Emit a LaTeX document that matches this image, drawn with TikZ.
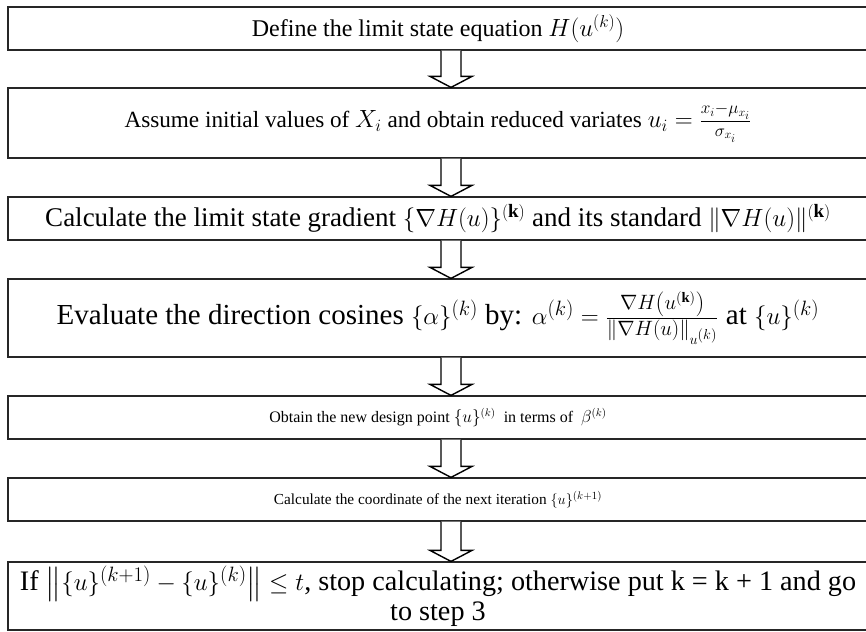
\documentclass[tikz,border=0pt]{standalone}
\usepackage{amsmath,amssymb}
\usepackage{fontspec}
\setmainfont{Liberation Serif}
\usetikzlibrary{calc}
\tikzset{stage/.style={draw=black!85,line width=1.2pt,minimum width=860pt,inner sep=0pt,align=center},hollow/.style={draw=black,line width=1.4pt,fill=white,line join=miter}}
\newcommand{\stagedown}[2]{\draw[hollow] let \p1=(#1.south), \p2=(#2.north) in (\x1+3pt,\y1) -- (\x1+3pt,\y2+11pt) -- (\x1-8pt,\y2+11pt) -- (\x1+13pt,\y2) -- (\x1+34pt,\y2+11pt) -- (\x1+23pt,\y2+11pt) -- (\x1+23pt,\y1);}

\begin{document}
\begin{tikzpicture}[x=1pt,y=-1pt]
\clip (0,0) rectangle (866,631);
\node[stage,minimum height=43pt,font=\fontsize{24}{28}\selectfont] (define) at (438,28.5) {Define the limit state equation $H(u^{(k)})$};
\node[stage,minimum height=70pt,font=\fontsize{23.2}{28}\selectfont] (assume) at (438,123) {Assume initial values of $X_i$ and obtain reduced variates $u_i=\frac{x_i-\mu_{x_i}}{\sigma_{x_i}}$};
\node[stage,minimum height=43pt,font=\fontsize{27}{30}\selectfont] (gradient) at (438,218.5) {Calculate the limit state gradient $\{\nabla H(u)\}^{(\mathbf{k})}$ and its standard $\|\nabla H(u)\|^{(\mathbf{k})}$};
\node[stage,minimum height=78pt,font=\fontsize{29}{31}\selectfont] (cosines) at (438,318) {Evaluate the direction cosines $\{\alpha\}^{(k)}$ by: $\alpha^{(k)}=\frac{\nabla H\left(u^{(\mathbf{k})}\right)}{\|\nabla H(u)\|_{u^{(k)}}}$ at $\{u\}^{(k)}$};
\node[stage,minimum height=43pt,font=\fontsize{16}{20}\selectfont] (design) at (438,417.5) {Obtain the new design point $\{u\}^{(k)}$~ in terms of~ $\beta^{(k)}$};
\node[stage,minimum height=43pt,font=\fontsize{15.3}{20}\selectfont] (next) at (438,499.5) {Calculate the coordinate of the next iteration $\{u\}^{(k+1)}$};
\node[stage,minimum height=68pt,font=\fontsize{28.2}{30}\selectfont] (check) at (438,596) {If $\left\|\{u\}^{(k+1)}-\{u\}^{(k)}\right\|\leq t$, stop calculating; otherwise put k = k + 1 and go\\to step 3};
\stagedown{define}{assume}
\stagedown{assume}{gradient}
\stagedown{gradient}{cosines}
\stagedown{cosines}{design}
\stagedown{design}{next}
\stagedown{next}{check}
\end{tikzpicture}
\end{document}
